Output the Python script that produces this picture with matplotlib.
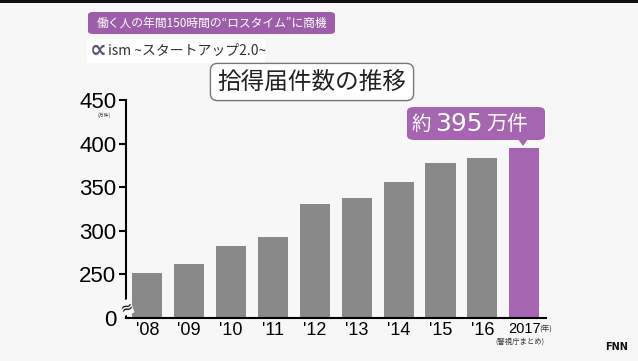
import matplotlib
matplotlib.use("Agg")
import matplotlib.pyplot as plt
from matplotlib.patches import FancyBboxPatch, Polygon

plt.rcParams['font.family'] = ['Noto Sans CJK JP', 'DejaVu Sans']

years = ["'08", "'09", "'10", "'11", "'12", "'13", "'14", "'15", "'16", "2017"]
counts = [252, 262, 283, 293, 331, 338, 356, 378, 383, 395]  # 万件
ytick_vals = [200, 250, 300, 350, 400, 450]
ytick_labels = ["0", "250", "300", "350", "400", "450"]

gray = "#898989"
purple = "#a565b1"
bg = "#f7f7f7"
num_font = "Liberation Sans"

W, H = 638, 361
fx = lambda px: px / W
fy = lambda py: 1 - py / H

fig = plt.figure(figsize=(6.38, 3.61), dpi=100, facecolor=bg)
ax = fig.add_axes([fx(126), fy(318), fx(546) - fx(126), fy(100) - fy(318)])
ax.set_facecolor(bg)

colors = [gray] * (len(years) - 1) + [purple]
base = ytick_vals[0]
ax.bar(range(len(years)), [c - base for c in counts], bottom=base, width=0.72, color=colors)

ax.set_xlim(-0.51, 9.52)
ax.set_ylim(200, 450)
ax.set_yticks(ytick_vals)
ax.set_yticklabels(ytick_labels, fontfamily=num_font, fontsize=16)
ax.set_xticks(range(len(years)))
ax.set_xticklabels(years, fontfamily=num_font, fontsize=13)
ax.get_xticklabels()[-1].set_fontsize(10.5)
ax.tick_params(axis='x', length=0, pad=3)
ax.tick_params(axis='y', length=5, width=1.5, pad=2)
ax.yaxis.get_major_ticks()[0].tick1line.set_visible(False)
for s in ['top', 'right']:
    ax.spines[s].set_visible(False)
for s in ['left', 'bottom']:
    ax.spines[s].set_linewidth(1.5)

fig.text(fx(539), fy(330), "(年)", fontsize=5.5, ha='left', va='center', color='#333333')
fig.text(fx(520), fy(342), "(警視庁まとめ)", fontsize=5.3, ha='center', va='center', color='#333333')

# axis break mark
ax.text(0, 212, "≈", transform=ax.get_yaxis_transform(), ha='center', va='center',
        fontsize=11, fontfamily='DejaVu Sans', rotation=20,
        bbox=dict(facecolor=bg, edgecolor='none', pad=0))

fig.text(fx(104), fy(115), "(万件)", fontsize=3.5, ha='center', va='center', color='#333333')

# top banner
fig.patches.append(FancyBboxPatch((fx(88), fy(34)), fx(335) - fx(88), fy(12) - fy(34),
                                  boxstyle="round,pad=0,rounding_size=0.008",
                                  transform=fig.transFigure, facecolor="#9c5ea8", edgecolor='none'))
fig.text(fx(212), fy(23), "働く人の年間150時間の“ロスタイム”に商機", fontsize=8.5,
         color='white', ha='center', va='center')

fig.patches.append(FancyBboxPatch((fx(87), fy(63)), fx(265) - fx(87), fy(39) - fy(63),
                                  boxstyle="square,pad=0", transform=fig.transFigure,
                                  facecolor='white', edgecolor='none'))
fig.text(fx(90), fy(50), "∝", fontsize=17, color='#5b5470', ha='left', va='center',
         fontfamily='DejaVu Sans', fontweight='bold')
fig.text(fx(108), fy(51), "ism ~スタートアップ2.0~", fontsize=10, color='#333333',
         ha='left', va='center')

# chart title box
fig.text(fx(312), fy(82), "拾得届件数の推移", fontsize=17, color='#222222', ha='center', va='center',
         bbox=dict(boxstyle="round,pad=0.3,rounding_size=0.3", facecolor='white',
                   edgecolor='#777777', linewidth=1))

# callout
fig.patches.append(FancyBboxPatch((fx(407), fy(140)), fx(545) - fx(407), fy(107) - fy(140),
                                  boxstyle="round,pad=0,rounding_size=0.012",
                                  transform=fig.transFigure, facecolor=purple, edgecolor='none'))
fig.patches.append(Polygon([(fx(518), fy(139)), (fx(528), fy(139)), (fx(523), fy(146))],
                           closed=True, transform=fig.transFigure, facecolor=purple, edgecolor='none'))
fig.text(fx(412), fy(124), "約", fontsize=14, color='white', ha='left', va='center')
fig.text(fx(459), fy(124), "395", fontsize=18, color='white', ha='center', va='center',
         fontfamily='DejaVu Sans')
fig.text(fx(486), fy(124), "万件", fontsize=15, color='white', ha='left', va='center')

fig.text(fx(628), fy(347), "FNN", fontsize=7, fontweight='bold', color='#111111',
         ha='right', va='center', fontfamily='DejaVu Sans')

# dark top edge
fig.patches.append(FancyBboxPatch((0, fy(3)), 1, fy(0) - fy(3), boxstyle="square,pad=0",
                                  transform=fig.transFigure, facecolor='#111111', edgecolor='none'))

fig.savefig("out.png", dpi=100, facecolor=bg)
